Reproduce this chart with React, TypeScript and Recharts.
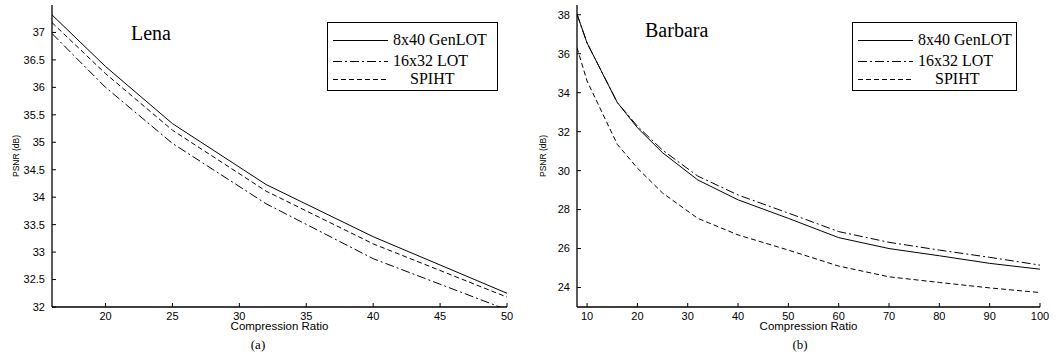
import React from 'react';
import { LineChart, Line, XAxis, YAxis, Legend } from 'recharts';

// Lena (a)
const lenaRatio = [16, 20, 25, 32, 40, 50];
const lenaGenLot = [37.32, 36.38, 35.34, 34.23, 33.28, 32.25];
const lenaLot = [36.98, 36.0, 34.98, 33.88, 32.88, 31.95];
const lenaSpiht = [37.18, 36.25, 35.22, 34.11, 33.15, 32.18];
const lenaXTicks = [20, 25, 30, 35, 40, 45, 50];
const lenaYTicks = [32, 32.5, 33, 33.5, 34, 34.5, 35, 35.5, 36, 36.5, 37];

// Barbara (b)
const barbaraRatio = [8, 10, 16, 20, 25, 32, 40, 50, 60, 70, 80, 90, 100];
const barbaraGenLot = [38.03, 36.55, 33.5, 32.2, 30.92, 29.52, 28.5, 27.55, 26.56, 26.0, 25.63, 25.24, 24.94];
const barbaraLot = [38.03, 36.55, 33.5, 32.28, 31.05, 29.72, 28.75, 27.82, 26.87, 26.32, 25.92, 25.55, 25.15];
const barbaraSpiht = [36.31, 34.6, 31.35, 30.13, 28.85, 27.55, 26.7, 25.92, 25.1, 24.55, 24.26, 23.98, 23.74];
const barbaraXTicks = [10, 20, 30, 40, 50, 60, 70, 80, 90, 100];
const barbaraYTicks = [24, 26, 28, 30, 32, 34, 36, 38];

const SANS = '"Liberation Sans", Arial, Helvetica, sans-serif';
const SERIF = '"Liberation Serif", "Times New Roman", serif';

// line styles, matlab-ish
const SERIES = [
  { key: 'genlot', name: '8x40 GenLOT', dash: undefined as string | undefined, indent: 0 },
  { key: 'lot', name: '16x32 LOT', dash: '9 3 2 3', indent: 0 },
  { key: 'spiht', name: 'SPIHT', dash: '5 3', indent: 17 },
];
const LEGEND_ROWS = [17, 38, 56];

const tickStyle = { fontSize: 11, fill: '#000', fontFamily: SANS };

function LegendBox({ width }: { width: number }) {
  return (
    <div
      style={{
        position: 'relative',
        width,
        height: 69,
        boxSizing: 'border-box',
        border: '1px solid #000',
        background: '#fff',
        fontFamily: SERIF,
        fontSize: 16,
        color: '#000',
      }}
    >
      {SERIES.map((s, i) => (
        <div
          key={s.key}
          style={{ position: 'absolute', left: 0, top: LEGEND_ROWS[i] - 10, height: 20, display: 'flex', alignItems: 'center', whiteSpace: 'nowrap' }}
        >
          <svg width={60} height={20}>
            <line x1={5} x2={60} y1={10.5} y2={10.5} stroke="#000" strokeWidth={1} strokeDasharray={s.dash} />
          </svg>
          <span style={{ marginLeft: 5 + s.indent, lineHeight: '20px' }}>{s.name}</span>
        </div>
      ))}
    </div>
  );
}

interface PanelProps {
  left: number;
  title: string;
  titleX: number;
  titleTop: number;
  caption: string;
  captionX: number;
  ratio: number[];
  genlot: number[];
  lot: number[];
  spiht: number[];
  xDomain: [number, number];
  xTicks: number[];
  yDomain: [number, number];
  yTicks: number[];
  yAxisWidth: number;
  yLabelOffset: number;
  marginRight: number;
  legendX: number;
  legendWidth: number;
}

function Panel(p: PanelProps) {
  const data = p.ratio.map((r, i) => ({ ratio: r, genlot: p.genlot[i], lot: p.lot[i], spiht: p.spiht[i] }));

  return (
    <div style={{ position: 'absolute', left: p.left, top: 0, width: 530, height: 360 }}>
      <LineChart
        width={530}
        height={360}
        data={data}
        margin={{ top: 5, right: p.marginRight, bottom: 0, left: 8 }}
        style={{ fontFamily: SANS }}
      >
        <XAxis
          xAxisId="main"
          dataKey="ratio"
          type="number"
          domain={p.xDomain}
          ticks={p.xTicks}
          allowDataOverflow
          height={53}
          tickSize={-4}
          tickMargin={9}
          interval={0}
          tick={tickStyle}
          axisLine={{ stroke: '#000', strokeWidth: 1.3 }}
          tickLine={{ stroke: '#000' }}
          label={{ value: 'Compression Ratio', position: 'insideBottom', offset: 30, fontSize: 11.5, fill: '#000', fontFamily: SANS }}
        />
        <XAxis
          xAxisId="top"
          orientation="top"
          type="number"
          domain={p.xDomain}
          ticks={p.xTicks}
          allowDataOverflow
          height={0}
          tickSize={-4}
          interval={0}
          tick={false}
          axisLine={{ stroke: '#000' }}
          tickLine={{ stroke: '#000' }}
        />
        <YAxis
          yAxisId="main"
          type="number"
          domain={p.yDomain}
          ticks={p.yTicks}
          allowDataOverflow
          width={p.yAxisWidth}
          tickSize={-4}
          tickMargin={11}
          interval={0}
          tick={tickStyle}
          axisLine={{ stroke: '#000', strokeWidth: 1.3 }}
          tickLine={{ stroke: '#000' }}
          label={{
            value: 'PSNR (dB)',
            angle: -90,
            position: 'insideLeft',
            offset: p.yLabelOffset,
            fontSize: 8.5,
            fill: '#000',
            fontFamily: SANS,
            style: { textAnchor: 'middle' },
          }}
        />
        <YAxis
          yAxisId="right"
          orientation="right"
          type="number"
          domain={p.yDomain}
          ticks={p.yTicks}
          allowDataOverflow
          width={0}
          tickSize={-4}
          interval={0}
          tick={false}
          axisLine={{ stroke: '#000' }}
          tickLine={{ stroke: '#000' }}
        />
        <Legend
          layout="horizontal"
          align="center"
          verticalAlign="middle"
          wrapperStyle={{ left: p.legendX, top: 22, width: p.legendWidth, height: 69 }}
          content={() => <LegendBox width={p.legendWidth} />}
        />
        {SERIES.map((s) => (
          <Line
            key={s.key}
            xAxisId="main"
            yAxisId="main"
            type="linear"
            dataKey={s.key}
            name={s.name}
            stroke="#000"
            strokeWidth={1}
            strokeDasharray={s.dash}
            dot={false}
            activeDot={false}
            isAnimationActive={false}
          />
        ))}
      </LineChart>

      <div
        style={{ position: 'absolute', left: p.titleX, top: p.titleTop, fontFamily: SERIF, fontSize: 20, lineHeight: '20px', color: '#000' }}
      >
        {p.title}
      </div>
      <div
        style={{
          position: 'absolute',
          left: p.captionX - 30,
          width: 60,
          top: 337,
          textAlign: 'center',
          fontFamily: SERIF,
          fontSize: 13,
          lineHeight: '16px',
          color: '#000',
        }}
      >
        {p.caption}
      </div>
    </div>
  );
}

export default function App() {
  return (
    <div style={{ position: 'absolute', left: 0, top: 0, width: 1060, height: 360, background: '#fff' }}>
      <Panel
        left={0}
        title="Lena"
        titleX={131}
        titleTop={23}
        caption="(a)"
        captionX={258}
        ratio={lenaRatio}
        genlot={lenaGenLot}
        lot={lenaLot}
        spiht={lenaSpiht}
        xDomain={[16, 50]}
        xTicks={lenaXTicks}
        yDomain={[32, 37.5]}
        yTicks={lenaYTicks}
        yAxisWidth={44}
        yLabelOffset={8}
        marginRight={23}
        legendX={327}
        legendWidth={171}
      />
      <Panel
        left={530}
        title="Barbara"
        titleX={115}
        titleTop={20}
        caption="(b)"
        captionX={270}
        ratio={barbaraRatio}
        genlot={barbaraGenLot}
        lot={barbaraLot}
        spiht={barbaraSpiht}
        xDomain={[8, 100]}
        xTicks={barbaraXTicks}
        yDomain={[23, 38.5]}
        yTicks={barbaraYTicks}
        yAxisWidth={39}
        yLabelOffset={5}
        marginRight={20}
        legendX={322}
        legendWidth={165}
      />
    </div>
  );
}
